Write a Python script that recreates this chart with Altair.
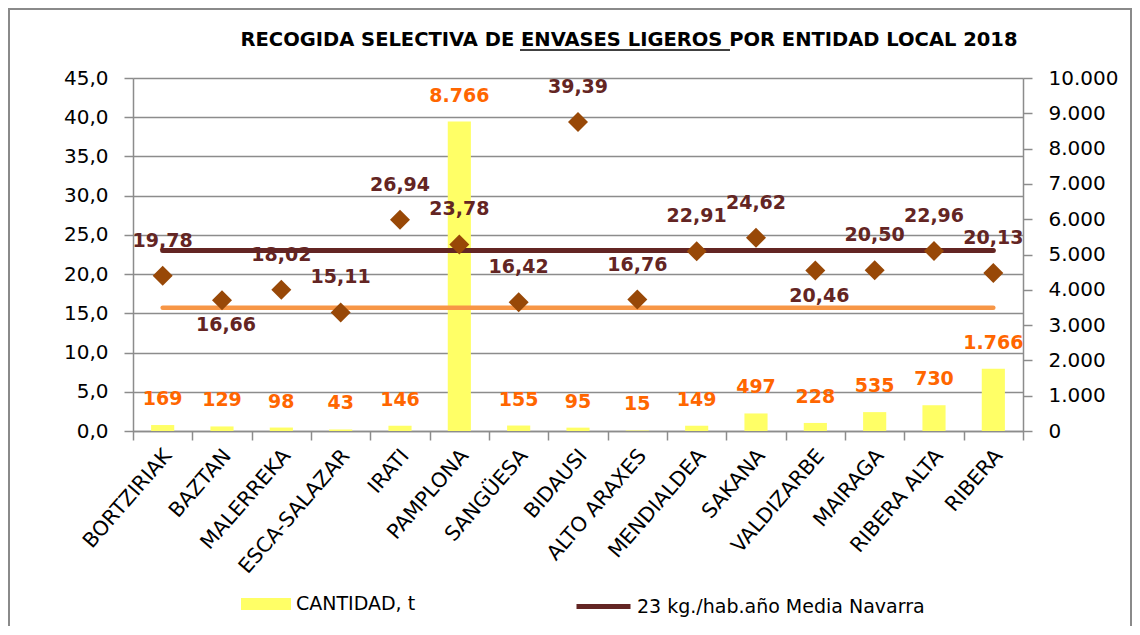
import altair as alt
import pandas as pd

# ---------------- data ----------------
entidades = ["BORTZIRIAK", "BAZTAN", "MALERREKA", "ESCA-SALAZAR", "IRATI", "PAMPLONA",
             "SANGÜESA", "BIDAUSI", "ALTO ARAXES", "MENDIALDEA", "SAKANA", "VALDIZARBE",
             "MAIRAGA", "RIBERA ALTA", "RIBERA"]
cantidad_t = [169, 129, 98, 43, 146, 8766, 155, 95, 15, 149, 497, 228, 535, 730, 1766]
kg_hab_ano = [19.78, 16.66, 18.02, 15.11, 26.94, 23.78, 16.42, 39.39, 16.76, 22.91,
              24.62, 20.46, 20.50, 22.96, 20.13]
media_navarra = 23.0
linea_naranja = 15.7
serie_barras = "CANTIDAD, t"
serie_media = "23 kg./hab.año Media Navarra"
titulo = "RECOGIDA SELECTIVA DE ENVASES LIGEROS POR ENTIDAD LOCAL 2018"
etiquetas_abajo = ["BAZTAN", "VALDIZARBE"]

df = pd.DataFrame({"ent": entidades, "t": cantidad_t, "kg": kg_hab_ano})
df["media"] = media_navarra
df["naranja"] = linea_naranja
df["s1"] = serie_barras
df["s2"] = serie_media

# ---------------- styles ----------------
GREY = "#8C8C8C"
YELLOW = "#FFFF66"
MAROON = "#632523"
DIAMOND = "#984807"
ORANGE_LINE = "#F79646"
ORANGE_TXT = "#FF6600"
FONT = "DejaVu Sans"

x = alt.X("ent:N", sort=entidades,
          scale=alt.Scale(paddingInner=0, paddingOuter=0),
          axis=alt.Axis(title=None, labelAngle=-49, labelFontSize=20.5, labelFont=FONT,
                        labelColor="#000000", labelPadding=12, labelOffset=5,
                        tickBand="extent",
                        tickSize=9, tickColor=GREY, domainColor=GREY, domainWidth=1.5,
                        tickWidth=1.5, grid=False, labelLimit=300))

y_left_scale = alt.Scale(domain=[0, 45], nice=False, zero=True)
y_right_scale = alt.Scale(domain=[0, 10000], nice=False, zero=True)

base = alt.Chart(df)

bars = base.mark_bar(width=alt.RelativeBandSize(0.39)).encode(
    x=x,
    y=alt.Y("t:Q", scale=y_right_scale,
            axis=alt.Axis(orient="right", title=None, grid=False, tickCount=10,
                          tickSize=9, tickColor=GREY, tickWidth=1.5,
                          domainColor=GREY, domainWidth=1.5,
                          labelPadding=16, labelFontSize=20, labelFont=FONT,
                          labelColor="#000000",
                          labelExpr="replace(format(datum.value, ',.0f'), ',', '.')")),
    fill=alt.Fill("s1:N", scale=alt.Scale(domain=[serie_barras], range=[YELLOW]),
                  legend=alt.Legend(title=None, orient="none", legendX=108, legendY=501,
                                    symbolType="M-1,-0.24H1V0.24H-1Z", symbolSize=2500,
                                    symbolStrokeWidth=0, labelFont=FONT, labelFontSize=19,
                                    labelColor="#000000", labelOffset=5, padding=0,
                                    symbolOpacity=1, labelLimit=400)),
)

bar_labels = base.mark_text(font=FONT, fontSize=19, fontWeight="bold", color=ORANGE_TXT,
                            baseline="middle", dy=-26).transform_calculate(
    lab="replace(format(datum.t, ','), ',', '.')"
).encode(
    x=x,
    y=alt.Y("t:Q", scale=y_right_scale, axis=None),
    text="lab:N",
)

line_media = base.mark_line(strokeWidth=5, strokeCap="round").encode(
    x=x,
    y=alt.Y("media:Q", scale=y_left_scale, axis=None),
    stroke=alt.Stroke("s2:N", scale=alt.Scale(domain=[serie_media], range=[MAROON]),
                      legend=alt.Legend(title=None, orient="none", legendX=441, legendY=499,
                                        symbolType="stroke", symbolSize=2916,
                                        symbolStrokeWidth=5, labelFont=FONT,
                                        labelFontSize=19, labelColor="#000000",
                                        labelOffset=4, padding=0, labelLimit=500)),
)

line_orange = base.mark_line(strokeWidth=4.5, strokeCap="round", color=ORANGE_LINE).encode(
    x=x,
    y=alt.Y("naranja:Q", scale=y_left_scale, axis=None),
)

points = base.mark_point(shape="diamond", filled=True, size=400, color=DIAMOND,
                         opacity=1).encode(
    x=x,
    y=alt.Y("kg:Q", scale=y_left_scale,
            axis=alt.Axis(orient="left", title=None, grid=True, gridColor=GREY,
                          gridWidth=1.5, tickCount=9, tickSize=9, tickColor=GREY,
                          tickWidth=1.5, domainColor=GREY, domainWidth=1.5,
                          labelPadding=16, labelFontSize=20, labelFont=FONT,
                          labelColor="#000000",
                          labelExpr="replace(format(datum.value, '.1f'), '.', ',')")),
)

pt_lab_calc = "replace(format(datum.kg, '.2f'), '.', ',')"
pt_labels_up = base.mark_text(font=FONT, fontSize=19, fontWeight="bold", color=MAROON,
                              baseline="middle", dy=-35).transform_filter(
    ~alt.FieldOneOfPredicate(field="ent", oneOf=etiquetas_abajo)
).transform_calculate(lab=pt_lab_calc).encode(
    x=x, y=alt.Y("kg:Q", scale=y_left_scale, axis=None), text="lab:N")

pt_labels_down = base.mark_text(font=FONT, fontSize=19, fontWeight="bold", color=MAROON,
                                baseline="middle", dy=25, dx=4).transform_filter(
    alt.FieldOneOfPredicate(field="ent", oneOf=etiquetas_abajo)
).transform_calculate(lab=pt_lab_calc).encode(
    x=x, y=alt.Y("kg:Q", scale=y_left_scale, axis=None), text="lab:N")

# title (real text), its partial underline and the outer frame
deco = pd.DataFrame({"titulo": [titulo]})
title_txt = alt.Chart(deco).mark_text(font=FONT, fontSize=19.5, fontWeight="bold",
                                      color="#000000", align="center",
                                      baseline="alphabetic").encode(
    x=alt.value(496), y=alt.value(-32), text="titulo:N")
underline = alt.Chart(deco).mark_rule(color="#000000", strokeWidth=1.6).encode(
    x=alt.value(387), x2=alt.value(597), y=alt.value(-28))
frame_left = alt.Chart(deco).mark_rule(color="#8A8A8A", strokeWidth=2).encode(
    x=alt.value(-124), y=alt.value(-70), y2=alt.value(550))
frame_top = alt.Chart(deco).mark_rule(color="#8A8A8A", strokeWidth=2).encode(
    x=alt.value(-124), x2=alt.value(998), y=alt.value(-69))
frame_right = alt.Chart(deco).mark_rule(color="#8A8A8A", strokeWidth=2).encode(
    x=alt.value(998), y=alt.value(-70), y2=alt.value(550))

chart = alt.layer(
    bars, line_orange, line_media, points, bar_labels, pt_labels_up, pt_labels_down,
    title_txt, underline, frame_left, frame_top, frame_right
).resolve_scale(y="independent").properties(
    width=890, height=353,
    padding={"left": 125, "top": 70, "right": 109, "bottom": 195},
    autosize=alt.AutoSizeParams(type="none"),
).configure_view(stroke=None).configure(background="white")

chart.save("out.html", embed_options={"renderer": "svg", "actions": False})
